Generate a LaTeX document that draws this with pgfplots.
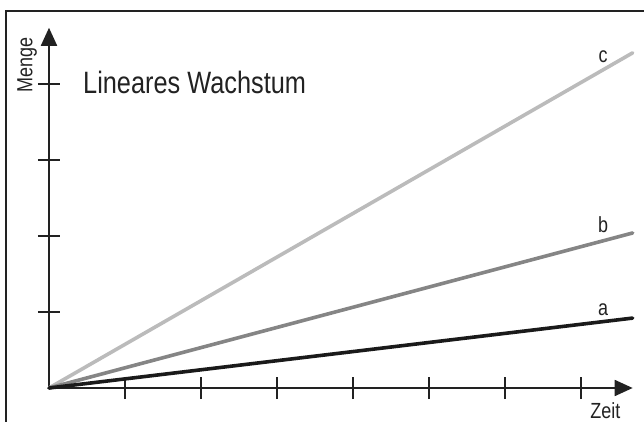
\documentclass[border=0pt]{standalone}
\usepackage{fontspec}
\setmainfont{Liberation Sans}[FakeStretch=0.82]
\usepackage{pgfplots}
\pgfplotsset{compat=1.18}
\usetikzlibrary{arrows.meta}
\definecolor{lineA}{HTML}{1A1A1A}
\definecolor{lineB}{HTML}{858585}
\definecolor{lineC}{HTML}{BBBBBB}
\definecolor{ink}{HTML}{222222}
\begin{document}
\begin{tikzpicture}
\useasboundingbox (-49bp,-34bp) rectangle (595bp,388bp);
% outer frame (left and top edges only are visible)
\draw[ink, line width=1.8bp] (-43bp,-34bp) -- (-43bp,377bp) -- (595bp,377bp);
\begin{axis}[%
  at={(0,0)}, anchor=south west,
  scale only axis,
  width=583.68bp, height=360.24bp,
  xmin=0, xmax=7.68, ymin=0, ymax=4.74,
  axis lines=left,
  axis line style={ink, line width=1.8bp, -{Triangle[length=18bp,width=16bp]}},
  xtick={1,...,7}, ytick={1,...,4},
  xticklabels={}, yticklabels={},
  tick align=center,
  major tick length=22bp,
  tick style={ink, line width=1.4bp},
  clip=false]
  \addplot[lineC, line width=3.6bp, line cap=round] coordinates {(0,0) (7.68,4.41)};
  \addplot[lineB, line width=3.6bp, line cap=round] coordinates {(0,0) (7.68,2.04)};
  \addplot[lineA, line width=3.6bp, line cap=round] coordinates {(0,0) (7.68,0.92)};
  \node[anchor=base west, ink, font=\fontsize{31}{31}\selectfont, inner sep=0pt] at (axis cs:0.447,3.88) {Lineares Wachstum};
  \node[anchor=base, rotate=90, ink, font=\fontsize{22}{22}\selectfont, inner sep=0pt] at (axis cs:-0.22,4.25) {Menge};
  \node[anchor=base, ink, font=\fontsize{22}{22}\selectfont, inner sep=0pt] at (axis cs:7.32,-0.395) {Zeit};
  \node[anchor=base, ink, font=\fontsize{22}{22}\selectfont, inner sep=0pt] at (axis cs:7.29,4.28) {c};
  \node[anchor=base, ink, font=\fontsize{22}{22}\selectfont, inner sep=0pt] at (axis cs:7.29,2.04) {b};
  \node[anchor=base, ink, font=\fontsize{22}{22}\selectfont, inner sep=0pt] at (axis cs:7.29,0.96) {a};
\end{axis}
\end{tikzpicture}
\end{document}
